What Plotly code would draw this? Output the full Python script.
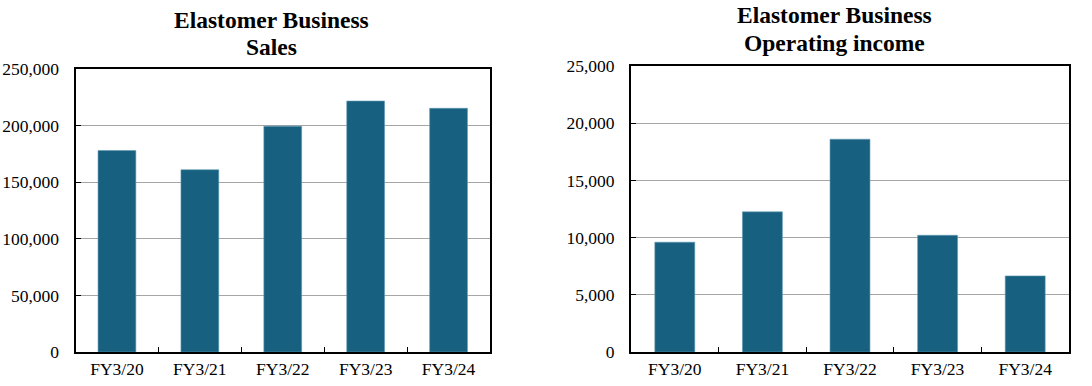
import plotly.graph_objects as go

categories = ["FY3/20", "FY3/21", "FY3/22", "FY3/23", "FY3/24"]
sales = [178000, 161000, 199500, 221700, 215300]
op_income = [9600, 12250, 18600, 10200, 6650]
sales_ticks = [0, 50000, 100000, 150000, 200000, 250000]
op_ticks = [0, 5000, 10000, 15000, 20000, 25000]

BAR = "#17607f"
FONT = "Liberation Serif"
W, H = 1092, 386

fig = go.Figure()
fig.add_trace(go.Bar(x=categories, y=sales, xaxis="x", yaxis="y", width=0.456,
                     marker=dict(color=BAR, line=dict(color="#5f9ab3", width=0.6))))
fig.add_trace(go.Bar(x=categories, y=op_income, xaxis="x2", yaxis="y2", width=0.456,
                     marker=dict(color=BAR, line=dict(color="#5f9ab3", width=0.6))))

xcommon = dict(type="category", showline=True, linecolor="black", linewidth=2, mirror=True,
               ticks="inside", ticklen=5, tickcolor="black", tickson="boundaries",
               showgrid=False, automargin=False,
               tickfont=dict(family=FONT, size=17.5, color="black"))
ycommon = dict(showline=True, linecolor="black", linewidth=2, mirror=True,
               ticks="inside", ticklen=5, tickcolor="black", showgrid=True,
               gridcolor="#a6a6a6", gridwidth=1, tickformat=",", zeroline=False,
               automargin=False,
               tickfont=dict(family=FONT, size=17.5, color="black"), ticklabelstandoff=11)

def px_x(v):
    return v / W

def px_y(v):
    return 1 - v / H

def title(text, x, y):
    return dict(text="<b>" + text + "</b>", x=px_x(x), y=px_y(y),
                xref="paper", yref="paper", xanchor="center", yanchor="middle",
                showarrow=False, font=dict(family=FONT, size=23.5, color="black"))

fig.update_layout(
    width=W, height=H, margin=dict(l=0, r=0, t=0, b=0, autoexpand=False),
    paper_bgcolor="white", plot_bgcolor="white", showlegend=False,
    xaxis=dict(domain=[px_x(75.5), px_x(490)], anchor="y", **xcommon),
    yaxis=dict(domain=[px_y(352), px_y(69)], anchor="x", range=[0, 250000], tickvals=sales_ticks, **ycommon),
    xaxis2=dict(domain=[px_x(631), px_x(1069)], anchor="y2", **xcommon),
    yaxis2=dict(domain=[px_y(352), px_y(66)], anchor="x2", range=[0, 25000], tickvals=op_ticks, **ycommon),
    annotations=[
        title("Elastomer Business", 271, 20),
        title("Sales", 271, 47),
        title("Elastomer Business", 834, 15),
        title("Operating income", 834, 43),
    ],
)

fig.write_html("out.html", config={"displayModeBar": False},
               post_script="document.body.style.margin='0';")
